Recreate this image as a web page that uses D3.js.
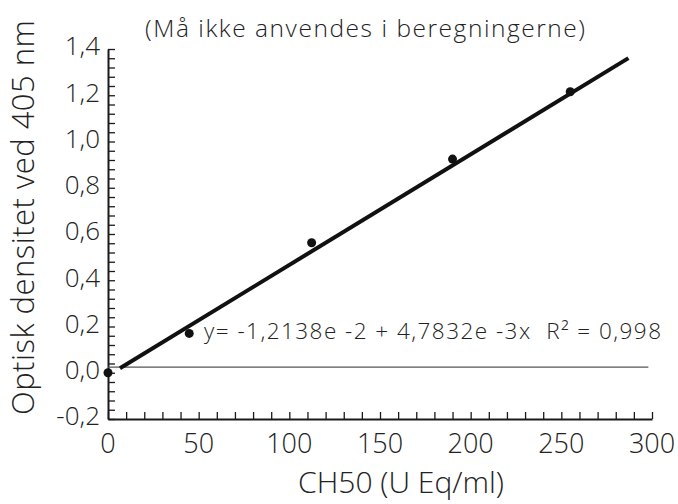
<!DOCTYPE html>
<html>
<head>
<meta charset="utf-8">
<script src="https://cdn.jsdelivr.net/npm/d3@7"></script>
<style>
  html, body { margin: 0; padding: 0; background: #fff; }
  svg { display: block; font-family: "Open Sans", Lato, sans-serif; font-weight: 300; }
</style>
</head>
<body>
<div id="chart"></div>
<script>
// standard curve, CH50 vs optical density

// measured points
const ch50 = [0, 44.8, 112.3, 190, 254.9];
const density = [0.0, 0.17, 0.562, 0.924, 1.215];

// regression line  y = a + b*x
const intercept = -1.2138e-2;
const slope = 4.7832e-3;
const fitRange = [6.6, 287];

// the thin horizontal reference line sits just above 0 in the original
const refLineValue = 0.024;

const xTickLabels = [0, 50, 100, 150, 200, 250, 300];
const yTickLabels = [-0.2, 0, 0.2, 0.4, 0.6, 0.8, 1.0, 1.2, 1.4];

const titleText = '(Må ikke anvendes i beregningerne)';
const equationText = 'y= -1,2138e -2 + 4,7832e -3x  R² = 0,998';
const xTitle = 'CH50 (U Eq/ml)';
const yTitle = 'Optisk densitet ved 405 nm';

const W = 678, H = 504;
const margin = { top: 49, right: 26, bottom: 85, left: 108 };
const textColor = '#222';

const svg = d3.select('#chart').append('svg')
  .attr('width', W)
  .attr('height', H);

const x = d3.scaleLinear().domain([0, 300]).range([margin.left, W - margin.right]);
const y = d3.scaleLinear().domain([-0.2, 1.4]).range([H - margin.bottom, margin.top]);

const fmt = v => d3.format('.1f')(v).replace('.', ',').replace('−', '-');

// y axis: minor ticks every 0.04, pointing inwards
const yAxis = d3.axisRight(y)
  .tickValues(d3.range(0, 41).map(i => -0.2 + i * 0.04))
  .tickSize(7)
  .tickSizeOuter(0)
  .tickFormat('');
const yG = svg.append('g')
  .attr('transform', `translate(${margin.left},0)`)
  .call(yAxis);
yG.select('.domain').attr('stroke', '#1a1a1a').attr('stroke-width', 2);
yG.selectAll('.tick line').attr('stroke', '#1a1a1a').attr('stroke-width', 1.3);

// y labels
svg.append('g').selectAll('text')
  .data(yTickLabels)
  .join('text')
  .attr('x', margin.left - 8)
  .attr('y', d => y(d) - 3)
  .attr('dy', '0.36em')
  .attr('text-anchor', 'end')
  .attr('font-size', 26)
  .attr('fill', textColor)
  .text(fmt);

// x axis: ticks every 10, pointing up
const xAxis = d3.axisTop(x)
  .tickValues(d3.range(0, 301, 10))
  .tickSize(7)
  .tickSizeOuter(0)
  .tickFormat('');
const xG = svg.append('g')
  .attr('transform', `translate(0,${y(-0.2)})`)
  .call(xAxis);
xG.select('.domain').attr('stroke', '#1a1a1a').attr('stroke-width', 2);
xG.selectAll('.tick line').attr('stroke', '#1a1a1a').attr('stroke-width', 1.3);

svg.append('g').selectAll('text')
  .data(xTickLabels)
  .join('text')
  .attr('x', d => x(d))
  .attr('y', y(-0.2) + 34)
  .attr('text-anchor', 'middle')
  .attr('font-size', 27)
  .attr('fill', textColor)
  .text(d => d);

// reference line
svg.append('line')
  .attr('x1', x(0))
  .attr('x2', x(298))
  .attr('y1', y(refLineValue))
  .attr('y2', y(refLineValue))
  .attr('stroke', '#555')
  .attr('stroke-width', 1.2);

// regression line
const line = d3.line()
  .x(d => x(d))
  .y(d => y(intercept + slope * d));
svg.append('path')
  .datum(fitRange)
  .attr('d', line)
  .attr('fill', 'none')
  .attr('stroke', '#111')
  .attr('stroke-width', 4);

// points
svg.append('g').selectAll('circle')
  .data(ch50.map((v, i) => ({ x: v, y: density[i] })))
  .join('circle')
  .attr('cx', d => x(d.x))
  .attr('cy', d => y(d.y))
  .attr('r', 4.5)
  .attr('fill', '#111');

// texts
svg.append('text')
  .attr('x', 145)
  .attr('y', 37)
  .attr('font-size', 24.5)
  .attr('fill', textColor)
  .attr('textLength', 440)
  .attr('lengthAdjust', 'spacing')
  .text(titleText);

svg.append('text')
  .attr('x', 204)
  .attr('y', 339)
  .attr('font-size', 22.5)
  .attr('fill', textColor)
  .attr('xml:space', 'preserve')
  .style('white-space', 'pre')
  .attr('textLength', 457)
  .attr('lengthAdjust', 'spacing')
  .text(equationText);

svg.append('text')
  .attr('x', 401)
  .attr('y', 493)
  .attr('text-anchor', 'middle')
  .attr('font-size', 30)
  .attr('fill', textColor)
  .text(xTitle);

svg.append('text')
  .attr('transform', `translate(34,415) rotate(-90)`)
  .attr('font-size', 31)
  .attr('fill', textColor)
  .attr('textLength', 395)
  .attr('lengthAdjust', 'spacing')
  .text(yTitle);
</script>
</body>
</html>
